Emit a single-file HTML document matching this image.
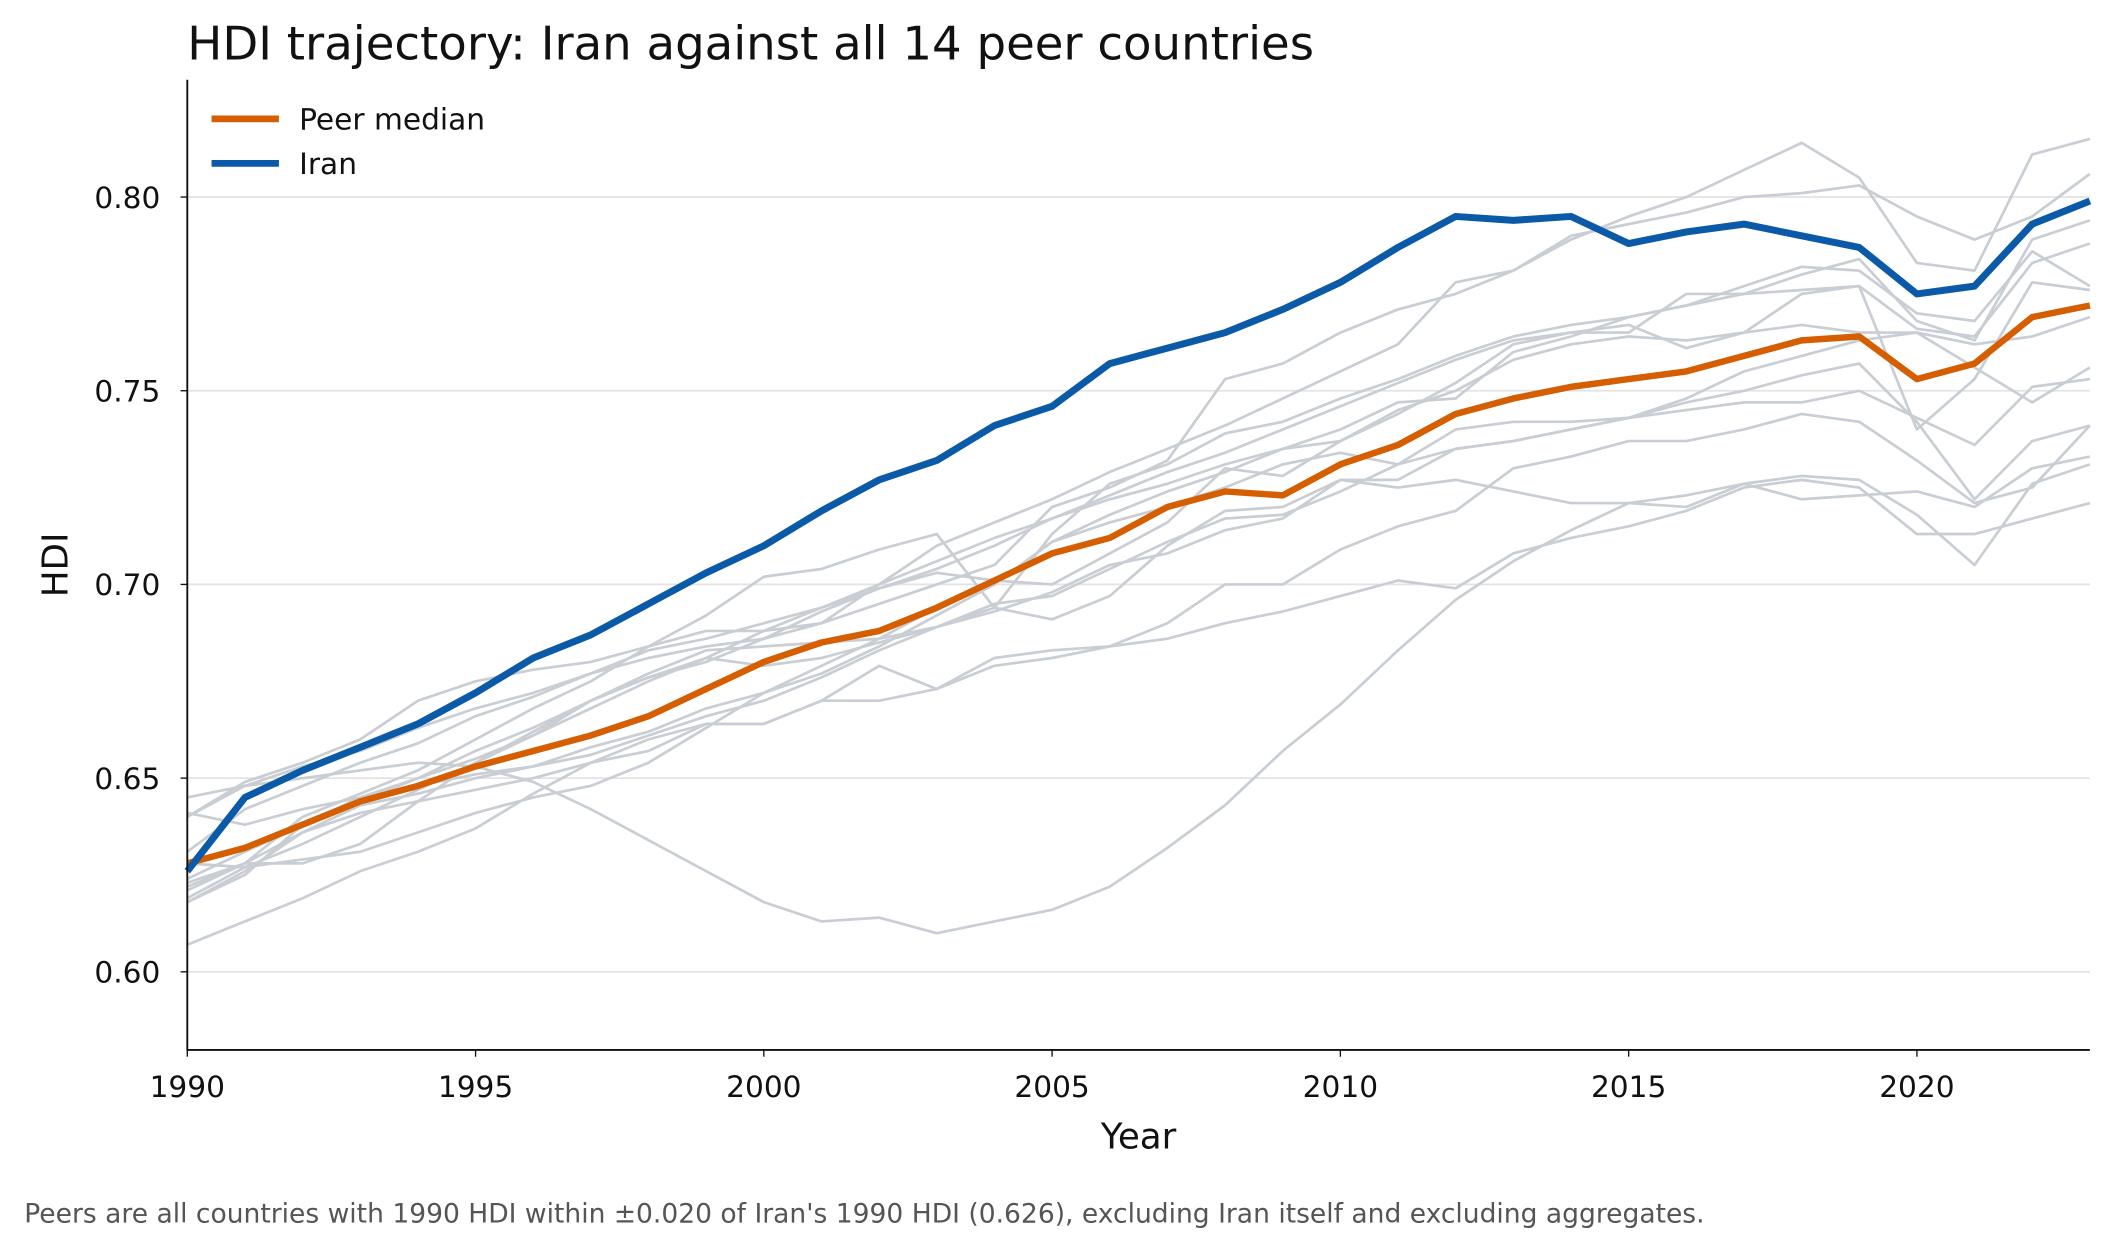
<!DOCTYPE html>
<html><head><meta charset="utf-8"><style>
html,body{margin:0;padding:0;background:#fff;}
svg{display:block;font-family:"DejaVu Sans","Liberation Sans",sans-serif;}
</style></head><body>
<svg id="chart" width="2102" height="1247" viewBox="0 0 1560 925" xmlns="http://www.w3.org/2000/svg">
<rect width="1560" height="925" fill="#fff"/>
<text x="139" y="44" font-size="34.6" fill="#111">HDI trajectory: Iran against all 14 peer countries</text>
<g id="grid"></g><g id="peers"></g><g id="main"></g><g id="axes"></g>
<g>
<line x1="157" y1="88" x2="207" y2="88" stroke="#d55e00" stroke-width="5"/>
<text x="222" y="96" font-size="22" fill="#111">Peer median</text>
<line x1="157" y1="121" x2="207" y2="121" stroke="#0b5aa8" stroke-width="5"/>
<text x="222" y="129" font-size="22" fill="#111">Iran</text>
</g>
<text x="845" y="852" font-size="26.5" text-anchor="middle" fill="#111">Year</text>
<text transform="translate(50,419) rotate(-90)" font-size="26.5" text-anchor="middle" fill="#111">HDI</text>
<text x="18" y="907" font-size="19.7" fill="#555">Peers are all countries with 1990 HDI within ±0.020 of Iran's 1990 HDI (0.626), excluding Iran itself and excluding aggregates.</text>
</svg>
<script>
const years = Array.from({length:34},(_,i)=>1990+i);
const yTicks = [0.60,0.65,0.70,0.75,0.80];
const xTicks = [1990,1995,2000,2005,2010,2015,2020];
const iran = [.626,.645,.652,.658,.664,.672,.681,.687,.695,.703,.710,.719,.727,.732,.741,.746,.757,.761,.765,.771,.778,.787,.795,.794,.795,.788,.791,.793,.790,.787,.775,.777,.793,.799];
const median = [.628,.632,.638,.644,.648,.653,.657,.661,.666,.673,.680,.685,.688,.694,.701,.708,.712,.720,.724,.723,.731,.736,.744,.748,.751,.753,.755,.759,.763,.764,.753,.757,.769,.772];
const peer1 = [.640,.648,.650,.652,.654,.653,.649,.642,.634,.626,.618,.613,.614,.610,.613,.616,.622,.632,.643,.657,.669,.683,.696,.706,.714,.721,.723,.726,.728,.727,.718,.705,.726,.731];
const peer2 = [.607,.613,.619,.626,.631,.637,.646,.654,.660,.664,.664,.670,.679,.673,.681,.683,.684,.686,.690,.693,.697,.701,.699,.708,.712,.715,.719,.725,.727,.725,.713,.713,.717,.721];
const peer3 = [.640,.649,.654,.660,.670,.675,.678,.680,.684,.688,.688,.690,.695,.700,.705,.720,.725,.732,.753,.757,.765,.771,.775,.781,.789,.795,.800,.807,.814,.805,.783,.781,.811,.815];
const peer4 = [.645,.648,.653,.657,.663,.668,.672,.677,.681,.684,.686,.690,.700,.710,.716,.722,.729,.735,.741,.748,.755,.762,.778,.781,.790,.793,.796,.800,.801,.803,.795,.789,.795,.806];
const peer5 = [.621,.628,.640,.646,.652,.660,.668,.675,.684,.692,.702,.704,.709,.713,.694,.713,.726,.731,.739,.742,.748,.753,.759,.764,.767,.769,.772,.775,.780,.784,.768,.763,.789,.794];
const peer6 = [.631,.642,.648,.654,.659,.666,.671,.677,.683,.686,.690,.694,.699,.704,.710,.717,.723,.729,.734,.740,.746,.752,.758,.763,.765,.765,.775,.775,.776,.777,.766,.764,.783,.788];
const peer7 = [.624,.631,.638,.645,.650,.655,.661,.668,.675,.681,.688,.694,.700,.706,.712,.717,.722,.726,.731,.735,.740,.747,.748,.760,.764,.769,.772,.777,.782,.781,.770,.768,.786,.777];
const peer8 = [.619,.627,.633,.640,.647,.654,.662,.670,.676,.680,.686,.693,.699,.703,.701,.700,.708,.716,.730,.728,.737,.745,.750,.758,.762,.764,.763,.765,.767,.765,.765,.762,.764,.769];
const peer9 = [.618,.626,.636,.643,.646,.650,.653,.658,.662,.668,.672,.677,.684,.692,.700,.711,.718,.724,.729,.735,.737,.744,.752,.762,.765,.767,.761,.765,.775,.777,.740,.753,.778,.776];
const peer10 = [.623,.628,.628,.633,.644,.654,.661,.670,.677,.683,.684,.685,.686,.689,.694,.691,.697,.710,.719,.720,.727,.727,.735,.737,.740,.743,.745,.747,.747,.750,.743,.736,.751,.753];
const peer11 = [.628,.627,.629,.631,.636,.641,.645,.648,.654,.663,.672,.679,.686,.694,.700,.711,.716,.720,.725,.731,.734,.731,.740,.742,.742,.743,.748,.755,.759,.763,.765,.756,.747,.756];
const peer12 = [.641,.638,.642,.645,.648,.651,.653,.656,.661,.666,.670,.676,.683,.689,.695,.697,.704,.711,.717,.718,.724,.731,.735,.737,.740,.743,.747,.750,.754,.757,.742,.722,.737,.741];
const peer13 = [.618,.625,.638,.644,.650,.657,.663,.670,.676,.681,.679,.681,.685,.689,.693,.698,.705,.708,.714,.717,.727,.725,.727,.724,.721,.721,.720,.726,.722,.723,.724,.720,.730,.733];
const peer14 = [.622,.628,.636,.641,.644,.647,.650,.654,.657,.664,.664,.670,.670,.673,.679,.681,.684,.690,.700,.700,.709,.715,.719,.730,.733,.737,.737,.740,.744,.742,.732,.721,.725,.741];
const peers = [peer1,peer2,peer3,peer4,peer5,peer6,peer7,peer8,peer9,peer10,peer11,peer12,peer13,peer14];

const X0=139,X1=1551,Y0=779,Y1=59;
const xS = y => X0 + (y-1990)/(2023-1990)*(X1-X0);
const yS = v => 146 + (0.80-v)/0.05*143.75;
const NS="http://www.w3.org/2000/svg";
function mk(tag,attrs,parent){const e=document.createElementNS(NS,tag);for(const k in attrs)e.setAttribute(k,attrs[k]);parent.appendChild(e);return e;}
const grid=document.getElementById('grid'),axes=document.getElementById('axes');
yTicks.forEach(t=>{
  const g=mk('line',{x1:X0,x2:X1,y1:yS(t),y2:yS(t),stroke:'#e3e3e3','stroke-width':1.3},grid);
  
  
  const tk=mk('line',{x1:X0-5,x2:X0,y1:yS(t),y2:yS(t),stroke:'#111','stroke-width':1},axes);
  
  
  const tx=mk('text',{x:X0-20,y:yS(t)+8,'font-size':22,'text-anchor':'end',fill:'#111'},axes);
  tx.textContent=t.toFixed(2);
  
  
});
xTicks.forEach(t=>{
  const tk=mk('line',{x1:xS(t),x2:xS(t),y1:Y0,y2:Y0+5,stroke:'#111','stroke-width':1},axes);
  
  
  const tx=mk('text',{x:xS(t),y:Y0+35,'font-size':22,'text-anchor':'middle',fill:'#111'},axes);
  tx.textContent=t;
  
  
});
const ax=mk('path',{d:`M${X0},${Y1}V${Y0}H${X1}`,fill:'none',stroke:'#111','stroke-width':1.4},axes);


const pts=a=>a.map((v,i)=>`${xS(years[i]).toFixed(1)},${yS(v).toFixed(1)}`).join(' ');
const pg=document.getElementById('peers');
peers.forEach(p=>{
  const l=mk('polyline',{points:pts(p),fill:'none',stroke:'#c9ced4','stroke-width':2,'stroke-linejoin':'round'},pg);
  
  
});
const mg=document.getElementById('main');
const m=mk('polyline',{points:pts(median),fill:'none',stroke:'#d55e00','stroke-width':4.8,'stroke-linejoin':'round'},mg);


const ir=mk('polyline',{points:pts(iran),fill:'none',stroke:'#0b5aa8','stroke-width':5.2,'stroke-linejoin':'round'},mg);


</script>
</body></html>
